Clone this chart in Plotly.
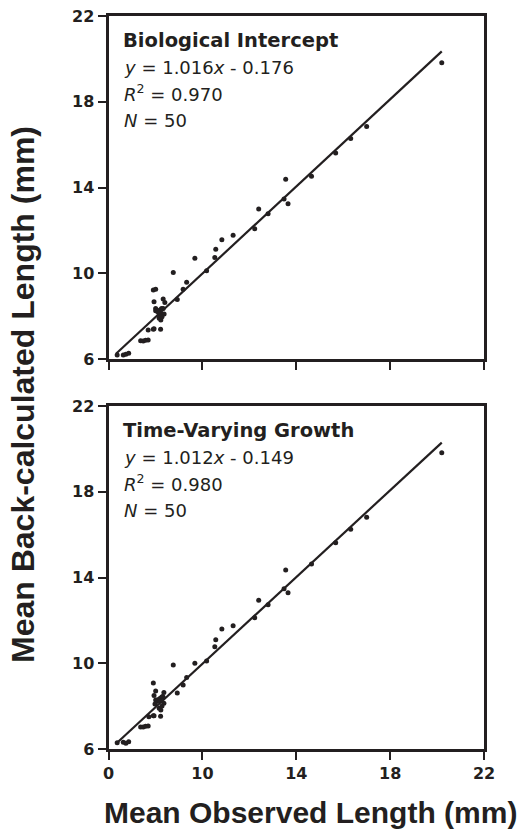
import plotly.graph_objects as go

# Top panel: Biological Intercept
bi_obs = [6.37, 6.63, 6.74, 6.86, 7.37, 7.48, 7.58, 7.69, 7.69, 7.91, 7.94, 8.22,
          7.91, 8.01, 7.94, 8.01, 8.01, 8.19, 8.26, 8.33, 8.33, 8.40, 8.16, 8.26,
          8.37, 8.16, 8.23, 8.28, 8.93, 8.76, 9.18, 9.33, 9.68, 10.18, 10.53, 10.57,
          10.83, 11.31, 12.23, 12.40, 12.80, 13.48, 13.55, 13.65, 14.65, 15.68, 16.32,
          17.00, 20.20, 8.10]
bi_back = [6.19, 6.19, 6.22, 6.27, 6.85, 6.84, 6.87, 6.89, 7.35, 7.39, 7.41, 7.39,
           9.22, 9.25, 8.67, 8.36, 8.25, 8.29, 8.36, 8.36, 8.80, 8.63, 8.05, 8.10,
           8.10, 7.90, 7.82, 7.97, 8.78, 10.04, 9.25, 9.58, 10.70, 10.12, 10.74, 11.12,
           11.56, 11.77, 12.08, 13.00, 12.78, 13.46, 14.38, 13.24, 14.52, 15.61, 16.29,
           16.84, 19.82, 8.20]

# Bottom panel: Time-Varying Growth
tv_obs = [6.37, 6.63, 6.74, 6.86, 7.37, 7.48, 7.58, 7.69, 7.72, 7.91, 7.94, 8.22,
          7.91, 8.01, 7.94, 8.01, 8.05, 8.19, 8.26, 8.33, 8.36, 8.36, 8.16, 8.23,
          8.28, 8.93, 8.76, 9.18, 9.33, 9.68, 10.18, 10.53, 10.57, 10.83, 11.31, 12.23,
          12.40, 12.80, 13.48, 13.55, 13.65, 14.65, 15.68, 16.32, 17.00, 20.20,
          8.10, 8.20, 8.30, 7.98]
tv_back = [6.29, 6.31, 6.27, 6.34, 7.03, 7.03, 7.06, 7.07, 7.51, 7.55, 7.55, 7.53,
           9.08, 8.71, 8.49, 8.29, 8.21, 8.36, 8.41, 8.41, 8.63, 8.13, 7.90, 7.82,
           8.01, 8.61, 9.92, 8.99, 9.34, 10.00, 10.10, 10.77, 11.10, 11.60, 11.75, 12.12,
           12.94, 12.73, 13.48, 14.35, 13.29, 14.63, 15.62, 16.25, 16.81, 19.82,
           8.30, 8.25, 8.45, 8.10]

bi_slope, bi_int = 1.016, -0.176
tv_slope, tv_int = 1.012, -0.149
fit_x = [6.32, 20.2]

tick_vals = [6, 10, 14, 18, 22]
x_tick_text = ["0", "10", "14", "18", "22"]
y_tick_text = ["6", "10", "14", "18", "22"]

INK = "#231f20"
FONT = "Liberation Sans, Arial, sans-serif"
WIDE = "DejaVu Sans, Verdana, sans-serif"

fig = go.Figure()

for obs, back, slope, icpt, xa, ya in [
    (bi_obs, bi_back, bi_slope, bi_int, "x", "y"),
    (tv_obs, tv_back, tv_slope, tv_int, "x2", "y2"),
]:
    fig.add_trace(go.Scatter(x=fit_x, y=[slope * v + icpt for v in fit_x], mode="lines",
                             line=dict(color=INK, width=2.2), xaxis=xa, yaxis=ya,
                             showlegend=False, hoverinfo="skip"))
    fig.add_trace(go.Scatter(x=obs, y=back, mode="markers",
                             marker=dict(color=INK, size=5), xaxis=xa, yaxis=ya,
                             showlegend=False))

W, H = 525, 837
xdom = [108.5 / W, 484 / W]
top_dom = [1 - 359 / H, 1 - 16 / H]
bot_dom = [1 - 749 / H, 1 - 406 / H]

axis_common = dict(range=[6, 22], tickvals=tick_vals, showline=True, linewidth=3,
                   linecolor=INK, mirror=True, ticks="outside", ticklen=8, tickwidth=2,
                   tickcolor=INK, showgrid=False, zeroline=False, automargin=False,
                   tickfont=dict(family=WIDE, size=16, color=INK, weight="bold"))

fig.update_layout(
    width=W, height=H, margin=dict(l=0, r=0, t=0, b=0),
    paper_bgcolor="white", plot_bgcolor="white",
    xaxis=dict(domain=xdom, anchor="y", showticklabels=False, ticktext=x_tick_text, **axis_common),
    yaxis=dict(domain=top_dom, anchor="x", ticktext=y_tick_text, **axis_common),
    xaxis2=dict(domain=xdom, anchor="y2", ticktext=x_tick_text, **axis_common),
    yaxis2=dict(domain=bot_dom, anchor="x2", ticktext=y_tick_text, **axis_common),
)

def ann(text, x_px, y_px, size, bold=False, **kw):
    fig.add_annotation(text=text, x=x_px / W, y=1 - y_px / H, xref="paper", yref="paper",
                       xanchor="left", yanchor="middle", showarrow=False,
                       font=dict(family=WIDE, size=size, color=INK,
                                 weight="bold" if bold else "normal"), **kw)

for top, title, eq, r2 in [
    (0, "Biological Intercept", "<i>y</i> = 1.016<i>x</i> - 0.176", "0.970"),
    (390, "Time-Varying Growth", "<i>y</i> = 1.012<i>x</i> - 0.149", "0.980"),
]:
    ann(title, 121, top + 40, 19.5, bold=True)
    ann(eq, 122, top + 67, 18)
    ann("<i>R</i><sup>2</sup> = " + r2, 122, top + 93, 18)
    ann("<i>N</i> = 50", 122, top + 120, 18)

fig.add_annotation(text="Mean Observed Length (mm)", x=310 / W, y=1 - 812 / H,
                   xref="paper", yref="paper", xanchor="center", yanchor="middle",
                   showarrow=False, font=dict(family=FONT, size=30, color=INK, weight="bold"))
fig.add_annotation(text="Mean Back-calculated Length (mm)", x=23 / W, y=1 - 395 / H,
                   xref="paper", yref="paper", xanchor="center", yanchor="middle",
                   textangle=-90, showarrow=False,
                   font=dict(family=FONT, size=32, color=INK, weight="bold"))

fig.write_html("out.html")
